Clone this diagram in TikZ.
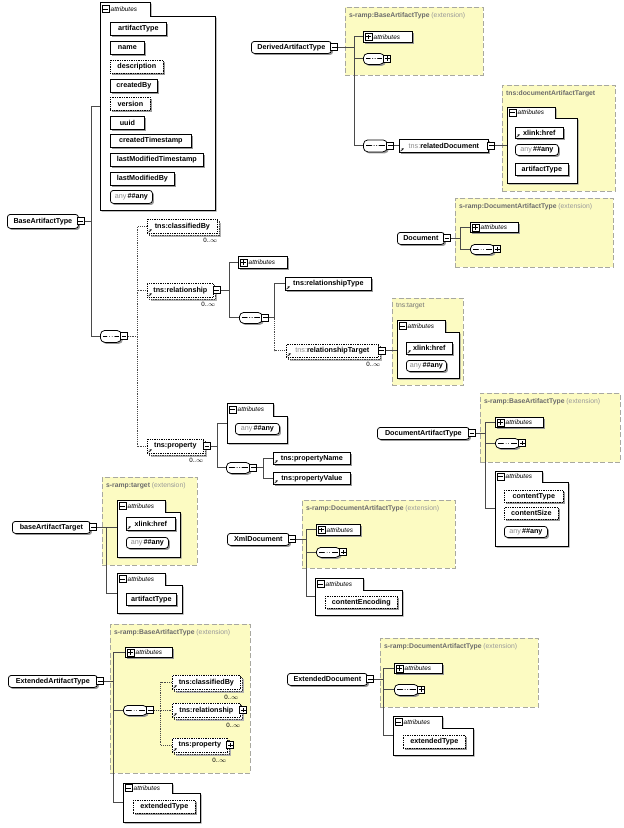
\documentclass[tikz,border=0pt]{standalone}
\usepackage{fontspec}
\setmainfont{Liberation Sans}
\usetikzlibrary{shadows,arrows.meta,calc}
\definecolor{extyel}{HTML}{FCFBC2}
\definecolor{extbrd}{HTML}{A8A8A0}
\definecolor{wirec}{HTML}{4A4A4A}
\pgfdeclarelayer{bg}
\pgfdeclarelayer{wires}
\pgfsetlayers{bg,wires,main}
\newcommand{\elf}{\fontsize{7.2}{8}\selectfont\bfseries}
\newcommand{\atf}{\fontsize{6.4}{7}\selectfont\itshape}
\newcommand{\cdf}{\fontsize{6.2}{7}\selectfont}
\newcommand{\gtx}[1]{{\color{black!45}\mdseries #1}}
\newcommand{\extlab}[1]{{\color{black!58}\bfseries #1} {\color{black!40}(extension)}}
\tikzset{
  shd/.style={drop shadow={shadow xshift=1.6pt,shadow yshift=-1.6pt,fill=black!40,opacity=1}},
  elem/.style={draw=black,fill=white,line width=0.75pt,inner sep=0pt,font=\elf,anchor=north west},
  ghost/.style={inner sep=0pt,anchor=north west},
  opt/.style={densely dotted},
  topel/.style={rounded corners=3pt,shd},
  refm/.style={path picture={\draw[solid,line width=0.5pt,-{Stealth[length=2.2pt,width=2.2pt]}] ([shift={(1.2pt,1.2pt)}]path picture bounding box.south west) -- ++(3pt,3pt);}},
  multi/.style={drop shadow={shadow xshift=3.6pt,shadow yshift=-3.6pt,fill=black!30,opacity=1},
     copy shadow={shadow xshift=2pt,shadow yshift=-2pt,draw=black!75,densely dotted,fill=white}},
  seq/.style={shd,rounded corners=4.5pt,path picture={
     \draw[solid,line width=0.9pt] ([xshift=2.5pt]path picture bounding box.west) -- ([xshift=-2.5pt]path picture bounding box.east);
     \foreach \ii in {-2.6,0,2.6}{\fill ([xshift=\ii pt]path picture bounding box.center) circle (1.15pt);}}},
  togm/.style={draw=black,fill=white,line width=0.65pt,minimum size=7pt,inner sep=0pt,
     path picture={\draw[line width=0.8pt] ([xshift=1.3pt]path picture bounding box.west) -- ([xshift=-1.3pt]path picture bounding box.east);}},
  togp/.style={draw=black,fill=white,line width=0.65pt,minimum size=7pt,inner sep=0pt,
     path picture={\draw[line width=0.8pt] ([xshift=1.3pt]path picture bounding box.west) -- ([xshift=-1.3pt]path picture bounding box.east);
        \draw[line width=0.8pt] ([yshift=1.3pt]path picture bounding box.south) -- ([yshift=-1.3pt]path picture bounding box.north);}},
  card/.style={font=\cdf,inner sep=0pt,anchor=north east},
  extb/.style={draw=extbrd,dash pattern=on 5pt off 2.5pt,fill=extyel,line width=0.8pt,inner sep=0pt,anchor=north west},
  extl/.style={font=\fontsize{6.8}{8}\selectfont,inner sep=0pt,anchor=north west},
  wire/.style={draw=wirec,line width=0.85pt},
  dwire/.style={wire,densely dotted},
}
% box by corners: [style]{x1}{y1}{x2}{y2}{name} {text};
\newcommand{\elbox}[6][]{\node[elem,#1,minimum width={#4-#2},minimum height={#5-#3}] (#6) at (#2,#3)}
\newcommand{\togg}[4]{\node[tog#4] (#1) at (#2,#3) {};}
\newcommand{\seqbox}[5]{\elbox[seq]{#1}{#2}{#3}{#4}{#5}{};}
\newcommand{\anybox}[5]{\elbox[shd,rounded corners=3pt]{#1}{#2}{#3}{#4}{#5}{\gtx{any}\,\#\#any};}
\newcommand{\plusattr}[5]{\elbox[shd]{#1}{#2}{#3}{#4}{#5}{};
  \node[togp] (#5t) at ($(#5.west)+(5.5,0)$) {};
  \node[font=\atf,anchor=west,inner sep=0pt] (#5l) at ($(#5.west)+(10.5,0)$) {attributes};}
\newcommand{\grpbox}[7]{%
  \path[draw=black,fill=white,line width=0.75pt,shd] (#2,#3) -- (#4,#3) -- (#4,#5) -- (#6,#5) -- (#6,#7) -- (#2,#7) -- cycle;
  \node[ghost,minimum width={#6-#2},minimum height={#7-#3}] (#1) at (#2,#3) {};
  \node[togm] (#1t) at ({#2+5.5},{(#3+#5)/2}) {};
  \node[font=\atf,anchor=west,inner sep=0pt] (#1l) at ({#2+10.5},{(#3+#5)/2}) {attributes};}
\newcommand{\extbox}[6]{%
  \begin{pgfonlayer}{bg}\node[extb,minimum width={#4-#2},minimum height={#5-#3}] (#1) at (#2,#3) {};\end{pgfonlayer}
  \node[extl] (#1l) at ({#2+4},{#3+5}) {#6};}
\begin{document}
\begin{tikzpicture}[x=1pt,y=-1pt]
\useasboundingbox (0,0) rectangle (624,828);

% ===== BaseArtifactType =====
\elbox[topel]{7}{214}{78}{228}{bt} {BaseArtifactType};
\togg{btT}{80.5}{221}{m}
\grpbox{btG}{100}{2}{150}{16}{215}{210}
\elbox[shd]{110}{22}{166}{35}{a1} {artifactType};
\elbox[shd]{110}{41}{144}{54}{a2} {name};
\elbox[shd,opt]{110}{60}{163}{73}{a3} {description};
\elbox[shd]{110}{79}{157}{92}{a4} {createdBy};
\elbox[shd,opt]{110}{97}{150}{110}{a5} {version};
\elbox[shd]{110}{116}{144}{129}{a6} {uuid};
\elbox[shd]{110}{134}{191}{147}{a7} {createdTimestamp};
\elbox[shd]{110}{153}{203}{166}{a8} {lastModifiedTimestamp};
\elbox[shd]{110}{172}{174}{185}{a9} {lastModifiedBy};
\anybox{110}{190}{152}{203}{a10}
\seqbox{100}{330}{121}{342}{bs}
\togg{bsT}{124}{336}{m}
\elbox[multi,opt,refm]{147}{219}{217}{233}{cb} {tns:classifiedBy};
\node[card] (cbN) at ($(cb.south east)+(0,4)$) {0..$\infty$};
\elbox[multi,opt,refm]{147}{283}{213}{297}{rel} {tns:relationship};
\togg{relT}{216.5}{290}{m}
\node[card] (relN) at ($(rel.south east)+(2,4)$) {0..$\infty$};
\elbox[multi,opt,refm]{147}{439}{203}{453}{prop} {tns:property};
\togg{propT}{207}{446}{m}
\node[card] (propN) at ($(prop.south east)+(0,4)$) {0..$\infty$};

% relationship subtree
\plusattr{238}{256}{287}{268}{relA}
\seqbox{239}{312}{262}{323}{relS}
\togg{relST}{265.3}{317.5}{m}
\elbox[shd,refm]{285}{277}{371}{290}{relTy} {tns:relationshipType};
\elbox[multi,opt,refm]{286}{344}{378}{357}{relTg} {\gtx{tns:}relationshipTarget};
\togg{relTgT}{381.5}{350.5}{m}
\node[card] (relTgN) at ($(relTg.south east)+(2,4)$) {0..$\infty$};

% tns:target
\extbox{tgtE}{392}{298}{463}{385}{{\color{black!55}tns:target}}
\grpbox{tgtG}{397}{320}{445}{332}{459}{378}
\elbox[shd,refm]{406}{342}{452}{354}{tgtH} {xlink:href};
\anybox{406}{360}{446}{371}{tgtAny}

% property subtree
\grpbox{propG}{227}{403}{273}{416}{287}{443}
\anybox{235}{423}{279}{434}{propAny}
\seqbox{226}{462}{250}{473}{propS}
\togg{propST}{253.3}{467.5}{m}
\elbox[shd,refm]{273}{452}{350}{464}{pN} {tns:propertyName};
\elbox[shd,refm]{273}{472}{350}{484}{pV} {tns:propertyValue};

% ===== DerivedArtifactType =====
\extbox{datE}{345}{7}{483}{75}{\extlab{s-ramp:BaseArtifactType}}
\elbox[topel]{251}{41}{331}{53}{dat} {DerivedArtifactType};
\togg{datT}{334.3}{47}{m}
\plusattr{363}{31}{412}{42}{datA}
\seqbox{363}{53}{384}{64}{datS}
\togg{datST}{387.3}{58.5}{p}
\seqbox{363}{139.5}{387}{151.5}{datS2}
\togg{datS2T}{390.3}{145.5}{m}
\elbox[shd,refm]{399}{139}{488}{152}{rd} {\gtx{tns:}relatedDocument};
\togg{rdT}{491.3}{145.5}{m}
\extbox{dtE}{502}{85}{615}{191}{{\color{black!58}\bfseries tns:documentArtifactTarget}}
\grpbox{dtG}{507}{107}{555}{118}{577}{183}
\elbox[shd,refm]{515}{127}{563}{138}{dtH} {xlink:href};
\anybox{515}{144}{558}{155}{dtAny}
\elbox[shd]{515}{163}{568}{175}{dtAT} {artifactType};

% ===== Document =====
\extbox{docE}{455}{198}{613}{267}{\extlab{s-ramp:DocumentArtifactType}}
\elbox[topel]{397}{232}{444}{244}{doc} {Document};
\togg{docT}{447}{238}{m}
\plusattr{470}{222}{518}{232}{docA}
\seqbox{470}{244}{494}{254}{docS}
\togg{docST}{497.3}{249}{p}

% ===== DocumentArtifactType =====
\extbox{dctE}{480}{393}{620}{462}{\extlab{s-ramp:BaseArtifactType}}
\elbox[topel]{377}{427}{469}{439}{dct} {DocumentArtifactType};
\togg{dctT}{472}{433}{m}
\plusattr{495}{417}{543}{427}{dctA}
\seqbox{495}{438}{519}{448}{dctS}
\togg{dctST}{522.3}{443}{p}
\grpbox{dctG}{495}{471}{542}{482}{568}{546}
\elbox[shd,opt]{504}{490}{563}{502}{cT} {contentType};
\elbox[shd,opt]{504}{507}{558}{519}{cS} {contentSize};
\anybox{504}{526}{547}{537}{cAny}

% ===== baseArtifactTarget =====
\extbox{batE}{102}{477}{197}{565}{\extlab{s-ramp:target}}
\elbox[topel]{12}{521}{90}{533}{bat} {baseArtifactTarget};
\togg{batT}{93.3}{527}{m}
\grpbox{batG1}{117}{500}{165}{512}{180}{557}
\elbox[shd,refm]{126}{517}{175}{530}{batH} {xlink:href};
\anybox{126}{537}{168}{548}{batAny}
\grpbox{batG2}{117}{573}{165}{585}{182}{613}
\elbox[shd]{126}{593}{176}{605}{batAT} {artifactType};

% ===== XmlDocument =====
\extbox{xdE}{302}{500}{455}{568}{\extlab{s-ramp:DocumentArtifactType}}
\elbox[topel]{227}{533}{289}{545}{xd} {XmlDocument};
\togg{xdT}{292.3}{539}{m}
\plusattr{316}{524}{360}{535}{xdA}
\seqbox{316}{547}{340}{557}{xdS}
\togg{xdST}{343.3}{552}{p}
\grpbox{xdG}{315}{578}{363}{590}{402}{615}
\elbox[shd,opt]{325}{596}{397}{608}{ce} {contentEncoding};

% ===== ExtendedArtifactType =====
\extbox{eatE}{110}{624}{250}{773}{\extlab{s-ramp:BaseArtifactType}}
\elbox[topel]{8}{675}{97}{687}{eat} {ExtendedArtifactType};
\togg{eatT}{100.3}{681}{m}
\plusattr{125}{647}{172}{657}{eatA}
\seqbox{123}{705}{147}{715}{eatS}
\togg{eatST}{150.3}{710}{m}
\elbox[multi,opt,refm]{172}{675}{240}{689}{ecb} {tns:classifiedBy};
\node[card] (ecbN) at ($(ecb.south east)+(-2,5)$) {0..$\infty$};
\elbox[multi,opt,refm]{172}{703}{240}{717}{erel} {tns:relationship};
\togg{erelT}{243.3}{710}{p}
\node[card] (erelN) at ($(erel.south east)+(0,5)$) {0..$\infty$};
\elbox[multi,opt,refm]{172}{738}{227}{752}{eprop} {tns:property};
\togg{epropT}{230.3}{745}{p}
\node[card] (epropN) at ($(eprop.south east)+(-1,5)$) {0..$\infty$};
\grpbox{eatG}{123}{783}{172}{793}{200}{822}
\elbox[shd,opt]{133}{800}{195}{813}{et} {extendedType};

% ===== ExtendedDocument =====
\extbox{edE}{380}{638}{538}{707}{\extlab{s-ramp:DocumentArtifactType}}
\elbox[topel]{287}{673}{367}{685}{ed} {ExtendedDocument};
\togg{edT}{370.3}{679}{m}
\plusattr{394}{663}{442}{673}{edA}
\seqbox{394}{684}{418}{695}{edS}
\togg{edST}{421.3}{689.5}{p}
\grpbox{edG}{393}{716}{442}{728}{473}{755}
\elbox[shd,opt]{403}{735}{465}{748}{edET} {extendedType};

% ===== connectors =====
\begin{pgfonlayer}{wires}
\draw[wire] (btT.east) -- ++(7,0) |- (btG.west);
\draw[wire] (btT.east) -- ++(7,0) |- (bs.west);
\draw[dwire] (bsT.east) -- ++(10,0) |- (cb.west);
\draw[dwire] (bsT.east) -- ++(10,0) |- (rel.west);
\draw[dwire] (bsT.east) -- ++(10,0) |- (prop.west);
\draw[wire] (relT.east) -- ++(9,0) |- (relA.west);
\draw[wire] (relT.east) -- ++(9,0) |- (relS.west);
\draw[wire] (relST.east) -- ++(5.5,0) |- (relTy.west);
\draw[dwire] (relST.east) -- ++(5.5,0) |- (relTg.west);
\draw[wire] (relTgT.east) -- (relTgT.east -| tgtG.west);
\draw[wire] (propT.east) -- ++(7,0) |- (propG.west);
\draw[wire] (propT.east) -- ++(7,0) |- (propS.west);
\draw[wire] (propST.east) -- ++(6.5,0) |- (pN.west);
\draw[wire] (propST.east) -- ++(6.5,0) |- (pV.west);

\draw[wire] (datT.east) -- ++(16,0) |- (datA.west);
\draw[wire] (datT.east) -- ++(16,0) |- (datS.west);
\draw[wire] (datT.east) -- ++(16,0) |- (datS2.west);
\draw[wire] (datS2T.east) -- (datS2T.east -| rd.west);
\draw[wire] (rdT.east) -- (rdT.east -| dtG.west);

\draw[wire] (docT.east) -- ++(10,0) |- (docA.west);
\draw[wire] (docT.east) -- ++(10,0) |- (docS.west);

\draw[wire] (dctT.east) -- ++(9.75,0) |- (dctA.west);
\draw[wire] (dctT.east) -- ++(9.75,0) |- (dctS.west);
\draw[wire] (dctT.east) -- ++(9.75,0) |- (dctG.west);

\draw[wire] (batT.east) -- (batT.east -| batG1.west);
\draw[wire] (batT.east) -- ++(9.5,0) |- (batG2.west);

\draw[wire] (xdT.east) -- ++(10.5,0) |- (xdA.west);
\draw[wire] (xdT.east) -- ++(10.5,0) |- (xdS.west);
\draw[wire] (xdT.east) -- ++(10.5,0) |- (xdG.west);

\draw[wire] (eatT.east) -- ++(9.5,0) |- (eatA.west);
\draw[wire] (eatT.east) -- ++(9.5,0) |- (eatS.west);
\draw[wire] (eatT.east) -- ++(9.5,0) |- (eatG.west);
\draw[dwire] (eatST.east) -- ++(6.5,0) |- (ecb.west);
\draw[dwire] (eatST.east) -- ++(6.5,0) |- (erel.west);
\draw[dwire] (eatST.east) -- ++(6.5,0) |- (eprop.west);

\draw[wire] (edT.east) -- ++(9.5,0) |- (edA.west);
\draw[wire] (edT.east) -- ++(9.5,0) |- (edS.west);
\draw[wire] (edT.east) -- ++(9.5,0) |- (edG.west);
\end{pgfonlayer}
\end{tikzpicture}
\end{document}
